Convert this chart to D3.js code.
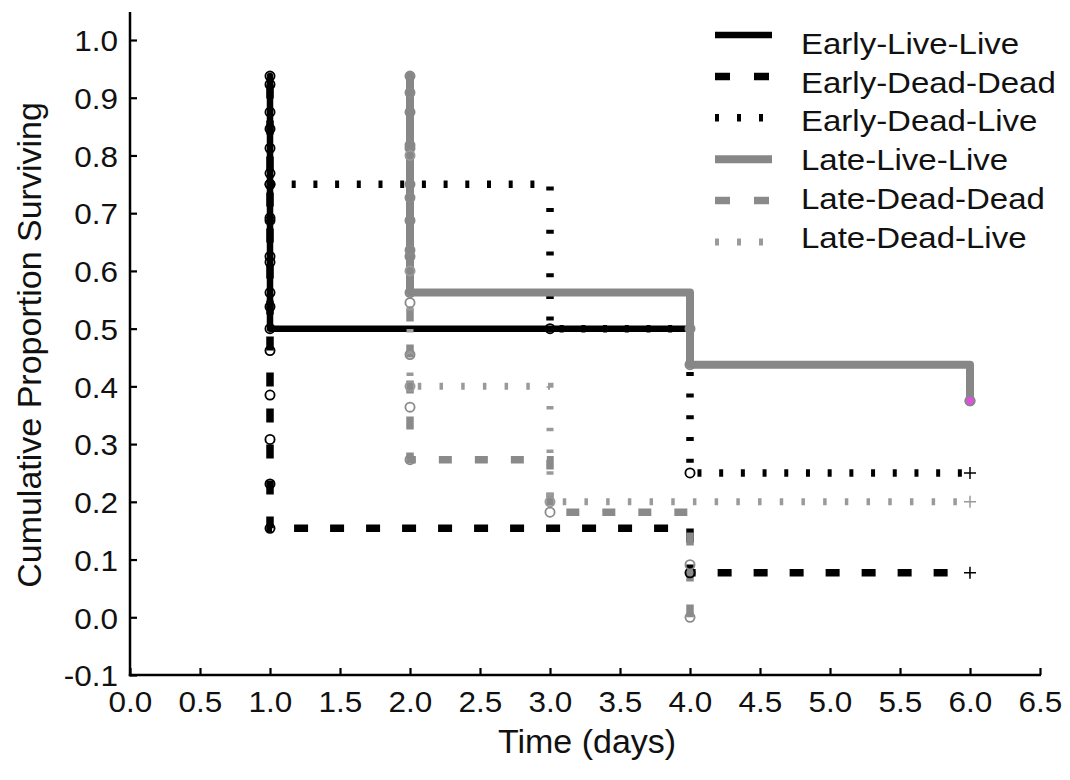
<!DOCTYPE html>
<html>
<head>
<meta charset="utf-8">
<script src="https://cdn.jsdelivr.net/npm/d3@7"></script>
<style>
  body { margin: 0; background: #fff; }
  text { font-family: "Liberation Sans", Arial, sans-serif; fill: #111; }
</style>
</head>
<body>
<svg id="chart" width="1070" height="780"></svg>
<script>
// Kaplan-Meier steps: [time (days), cumulative proportion surviving]
var earlyLiveLive = [[1,0.9375],[1,0.875],[1,0.8125],[1,0.75],[1,0.6875],[1,0.625],[1,0.5625],[1,0.5]];
var earlyDeadDead = [[1,0.923],[1,0.846],[1,0.769],[1,0.692],[1,0.615],[1,0.538],[1,0.462],[1,0.385],[1,0.308],[1,0.231],[1,0.154],[4,0.077]];
var earlyDeadLive = [[1,0.75],[3,0.5],[4,0.25]];
var lateLiveLive  = [[2,0.9375],[2,0.875],[2,0.8125],[2,0.75],[2,0.6875],[2,0.625],[2,0.5625],[4,0.5],[4,0.4375],[6,0.375]];
var lateDeadDead  = [[2,0.909],[2,0.818],[2,0.727],[2,0.636],[2,0.545],[2,0.455],[2,0.364],[2,0.273],[3,0.182],[4,0.091],[4,0.0]];
var lateDeadLive  = [[2,0.8],[2,0.6],[2,0.4],[3,0.2]];

var seriesNames = ["Early-Live-Live","Early-Dead-Dead","Early-Dead-Live","Late-Live-Live","Late-Dead-Dead","Late-Dead-Live"];
var seriesSteps = [earlyLiveLive, earlyDeadDead, earlyDeadLive, lateLiveLive, lateDeadDead, lateDeadLive];
// last follow-up time (null = curve stops on its last event) and whether it is censored (+)
var endTimes = [4, 6, 6, null, null, 6];
var censored = [false, true, true, false, false, true];

var xTicks = [0.0,0.5,1.0,1.5,2.0,2.5,3.0,3.5,4.0,4.5,5.0,5.5,6.0,6.5];
var yTicks = [-0.1,0.0,0.1,0.2,0.3,0.4,0.5,0.6,0.7,0.8,0.9,1.0];

// line looks
var styles = [
  {color:"#000",    width:6.5, dash:null},
  {color:"#000",    width:7.5, dash:"14,22"},
  {color:"#000",    width:7.5, dash:"4,17.7"},
  {color:"#878787", width:8,   dash:null},
  {color:"#8a8a8a", width:7.5, dash:"13,23"},
  {color:"#9a9a9a", width:7,   dash:"3.5,18.2"}
];

var svg = d3.select("#chart");
var x = d3.scaleLinear().domain([0, 6.5]).range([130, 1040]);
var y = d3.scaleLinear().domain([-0.1, 1.0]).range([675, 40]);

// axes, ticks pointing inward
var tickStretch = 1.05;
var xAxis = svg.append("g")
    .attr("transform", "translate(0,675)")
    .call(d3.axisBottom(x).tickValues(xTicks).tickSize(-7).tickSizeOuter(0)
      .tickFormat(function(d) { return d.toFixed(1); }));
xAxis.select(".domain").remove();
xAxis.selectAll("line").attr("stroke", "#000").attr("stroke-width", 2.2);
xAxis.selectAll("text")
    .attr("y", 37).attr("dy", null)
    .attr("font-size", 30)
    .attr("transform", "scale(" + tickStretch + ",1)")
    .attr("fill", "#111");

var yAxis = svg.append("g")
    .attr("transform", "translate(130,0)")
    .call(d3.axisLeft(y).tickValues(yTicks).tickSize(-7).tickSizeOuter(0)
      .tickFormat(function(d) { return d.toFixed(1); }));
yAxis.select(".domain").remove();
yAxis.selectAll("line").attr("stroke", "#000").attr("stroke-width", 2.2);
yAxis.selectAll("text")
    .attr("x", -12 / tickStretch).attr("dy", "0.36em")
    .attr("font-size", 30)
    .attr("transform", "scale(" + tickStretch + ",1)")
    .attr("fill", "#111");

svg.append("line").attr("x1", 130).attr("x2", 130).attr("y1", 12).attr("y2", 676.2)
    .attr("stroke", "#000").attr("stroke-width", 2.5);
svg.append("line").attr("x1", 128.8).attr("x2", 1041).attr("y1", 675).attr("y2", 675)
    .attr("stroke", "#000").attr("stroke-width", 2.5);

svg.append("text")
    .attr("transform", "translate(587,753)")
    .attr("text-anchor", "middle")
    .attr("font-size", 34)
    .text("Time (days)");
svg.append("text")
    .attr("transform", "translate(41,345) rotate(-90)")
    .attr("text-anchor", "middle")
    .attr("font-size", 34)
    .text("Cumulative Proportion Surviving");

var line = d3.line()
    .x(function(d) { return x(d[0]); })
    .y(function(d) { return y(d[1]); })
    .curve(d3.curveStepAfter);

function pathPoints(i) {
  var pts = seriesSteps[i].slice();
  if (endTimes[i] !== null) pts.push([endTimes[i], pts[pts.length - 1][1]]);
  return pts;
}

// draw order: black first, grey on top
var lines = svg.append("g").attr("fill", "none");
[1, 2, 0, 4, 5, 3].forEach(function(i) {
  var st = styles[i];
  lines.append("path")
      .attr("d", line(pathPoints(i)))
      .attr("stroke", st.color)
      .attr("stroke-width", st.width)
      .attr("stroke-dasharray", st.dash)
      .attr("stroke-linejoin", st.dash ? "miter" : "round")
      .attr("stroke-linecap", st.dash ? "butt" : "round");
});

// open event circles
var marks = svg.append("g");
seriesSteps.forEach(function(steps, i) {
  marks.selectAll(null).data(steps).enter().append("circle")
      .attr("cx", function(d) { return x(d[0]); })
      .attr("cy", function(d) { return y(d[1]); })
      .attr("r", 4.6)
      .attr("fill", "none")
      .attr("stroke", styles[i].color)
      .attr("stroke-width", 1.8);
});

// censored ends
seriesSteps.forEach(function(steps, i) {
  if (!censored[i]) return;
  var cx = x(endTimes[i]), cy = y(steps[steps.length - 1][1]);
  svg.append("path")
      .attr("d", "M" + (cx - 6) + "," + cy + "H" + (cx + 6) + "M" + cx + "," + (cy - 6) + "V" + (cy + 6))
      .attr("stroke", styles[i].color)
      .attr("stroke-width", 1.5);
});

// last Late-Live-Live point is highlighted
var lastLLL = lateLiveLive[lateLiveLive.length - 1];
svg.append("circle")
    .attr("cx", x(lastLLL[0])).attr("cy", y(lastLLL[1])).attr("r", 4.6)
    .attr("fill", "#e050e0").attr("stroke", styles[3].color).attr("stroke-width", 1.8);

// legend
var legendStretch = 1.1;
var legend = svg.append("g");
seriesNames.forEach(function(name, i) {
  var st = styles[i];
  var ly = 35 + 41.4 * i;
  legend.append("line")
      .attr("x1", 715).attr("x2", 772).attr("y1", ly).attr("y2", ly)
      .attr("stroke", st.color)
      .attr("stroke-width", st.width)
      .attr("stroke-dasharray", st.dash ? (st.dash === "14,22" || st.dash === "13,23" ? "15,24" : "4,18") : null);
  legend.append("text")
      .attr("transform", "translate(801," + (54 + 38.7 * i) + ") scale(" + legendStretch + ",1)")
      .attr("font-size", 30)
      .text(name);
});
</script>
</body>
</html>
